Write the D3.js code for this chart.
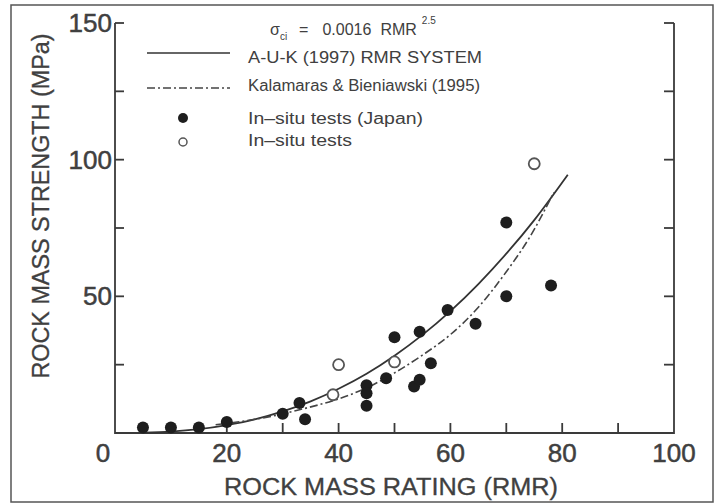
<!DOCTYPE html>
<html>
<head>
<meta charset="utf-8">
<script src="https://cdn.jsdelivr.net/npm/d3@7"></script>
<style>
  html, body { margin: 0; padding: 0; background: #fff; }
  svg { display: block; font-family: "Liberation Sans", Arial, sans-serif; }
</style>
</head>
<body>
<div id="chart"></div>
<script>
// tick values
const xMajorTicks = [0, 20, 40, 60, 80, 100];
const xMinorTicks = [10, 20, 30, 40, 50, 60, 70, 80, 90];
const yMajorTicks = [50, 100, 150];
const yMinorTicks = [25, 50, 75, 100, 125, 150];

// in-situ tests (Japan) - filled markers
const japanRmr      = [5, 10, 15, 20, 30, 33, 34, 45, 45, 45, 48.5, 50, 53.5, 54.5, 54.5, 56.5, 59.5, 64.5, 70, 70, 78];
const japanStrength = [2, 2, 2, 4, 7, 11, 5, 17.5, 14.5, 10, 20, 35, 17, 19.5, 37, 25.5, 45, 40, 50, 77, 54];

// in-situ tests - open markers
const otherRmr      = [39, 40, 50, 75];
const otherStrength = [14, 25, 26, 98.5];

// A-U-K (1997) RMR system curve
const aukRmr      = [5, 10, 15, 20, 25, 30, 35, 40, 45, 50, 55, 60, 65, 70, 75, 81];
const aukStrength = [0.1, 0.5, 1.4, 2.9, 5.0, 7.9, 11.6, 16.2, 21.7, 28.3, 35.9, 44.6, 54.5, 65.6, 77.9, 94.5];

// Kalamaras & Bieniawski (1995) curve
const kbRmr      = [18, 25, 30, 33, 40, 45, 50, 55, 60, 65, 70, 74, 78.5];
const kbStrength = [3, 5, 7, 8.5, 12.5, 16.5, 22, 28.5, 36, 46, 59, 71, 88];

const width = 721, height = 504;
const ink = "#3a3a3a";
const textInk = "#404040";

const svg = d3.select("#chart").append("svg")
  .attr("width", width)
  .attr("height", height);

const x = d3.scaleLinear().domain([0, 100]).range([115, 674]);
const y = d3.scaleLinear().domain([0, 150]).range([433, 23]);

// outer frame of the figure
svg.append("rect")
  .attr("x", 11).attr("y", 5)
  .attr("width", 702).attr("height", 497)
  .attr("fill", "none")
  .attr("stroke", "#555")
  .attr("stroke-width", 1.5);

// axes: left, bottom, right (no top line)
const axisG = svg.append("g").attr("stroke", ink).attr("stroke-width", 1.8).attr("fill", "none");
axisG.append("path")
  .attr("d", `M${x(0)},${y(150)}L${x(0)},${y(0)}L${x(100)},${y(0)}L${x(100)},${y(150)}`);

// inward ticks
axisG.selectAll(".xt").data(xMinorTicks).enter().append("line")
  .attr("x1", d => x(d)).attr("x2", d => x(d))
  .attr("y1", y(0)).attr("y2", y(0) - 10);
axisG.selectAll(".ylt").data(yMinorTicks).enter().append("line")
  .attr("x1", x(0)).attr("x2", x(0) + 9)
  .attr("y1", d => y(d)).attr("y2", d => y(d));
axisG.selectAll(".yrt").data(yMinorTicks).enter().append("line")
  .attr("x1", x(100)).attr("x2", x(100) - 10)
  .attr("y1", d => y(d)).attr("y2", d => y(d));

// tick labels
svg.append("g").selectAll("text").data(xMajorTicks).enter().append("text")
  .attr("x", d => d === 0 ? x(d) - 12 : x(d))
  .attr("y", y(0) + 29)
  .attr("text-anchor", "middle")
  .attr("fill", textInk)
  .attr("stroke", textInk).attr("stroke-width", 0.5)
  .style("font-size", "26px")
  .text(d => d);

svg.append("g").selectAll("text").data(yMajorTicks).enter().append("text")
  .attr("x", x(0) - 3)
  .attr("y", d => y(d) + 9)
  .attr("text-anchor", "end")
  .attr("fill", textInk)
  .attr("stroke", textInk).attr("stroke-width", 0.5)
  .style("font-size", "26px")
  .text(d => d);

// axis titles
svg.append("text")
  .attr("x", 391).attr("y", 495)
  .attr("text-anchor", "middle")
  .attr("fill", textInk)
  .attr("stroke", textInk).attr("stroke-width", 0.3)
  .attr("textLength", 334).attr("lengthAdjust", "spacingAndGlyphs")
  .style("font-size", "23px")
  .text("ROCK MASS RATING (RMR)");

svg.append("text")
  .attr("transform", "translate(49,206) rotate(-90)")
  .attr("text-anchor", "middle")
  .attr("fill", textInk)
  .attr("stroke", textInk).attr("stroke-width", 0.3)
  .attr("textLength", 345).attr("lengthAdjust", "spacingAndGlyphs")
  .style("font-size", "23px")
  .text("ROCK MASS STRENGTH (MPa)");

// curves
const line = d3.line()
  .x(d => x(d[0]))
  .y(d => y(d[1]))
  .curve(d3.curveMonotoneX);

svg.append("path")
  .datum(d3.zip(aukRmr, aukStrength))
  .attr("d", line)
  .attr("fill", "none")
  .attr("stroke", "#333")
  .attr("stroke-width", 1.8);

svg.append("path")
  .datum(d3.zip(kbRmr, kbStrength))
  .attr("d", line)
  .attr("fill", "none")
  .attr("stroke", "#444")
  .attr("stroke-width", 1.6)
  .attr("stroke-dasharray", "8,3,2,3");

// markers
svg.append("g").selectAll("circle").data(d3.zip(japanRmr, japanStrength)).enter().append("circle")
  .attr("cx", d => x(d[0]))
  .attr("cy", d => y(d[1]))
  .attr("r", 6)
  .attr("fill", "#1e1e1e");

svg.append("g").selectAll("circle").data(d3.zip(otherRmr, otherStrength)).enter().append("circle")
  .attr("cx", d => x(d[0]))
  .attr("cy", d => y(d[1]))
  .attr("r", 5.5)
  .attr("fill", "#fff")
  .attr("stroke", "#555")
  .attr("stroke-width", 1.8);

// legend
const legend = svg.append("g").attr("fill", textInk);

const formula = legend.append("text")
  .attr("x", 270).attr("y", 35)
  .style("font-size", "16px");
formula.append("tspan").text("σ");
formula.append("tspan").attr("dy", 5).style("font-size", "10px").text("ci");
formula.append("tspan").attr("dy", -5).attr("dx", 12).text("=");
formula.append("tspan").attr("dx", 14).text("0.0016");
formula.append("tspan").attr("dx", 9).text("RMR");
formula.append("tspan").attr("dy", -11).attr("dx", 5).style("font-size", "10px").text("2.5");

legend.append("line")
  .attr("x1", 147).attr("x2", 230).attr("y1", 53).attr("y2", 53)
  .attr("stroke", "#333").attr("stroke-width", 1.6);
legend.append("line")
  .attr("x1", 147).attr("x2", 230).attr("y1", 88).attr("y2", 88)
  .attr("stroke", "#444").attr("stroke-width", 1.6)
  .attr("stroke-dasharray", "8,3,2,3");
legend.append("circle")
  .attr("cx", 183).attr("cy", 118).attr("r", 5)
  .attr("fill", "#1e1e1e");
legend.append("circle")
  .attr("cx", 183).attr("cy", 142).attr("r", 4)
  .attr("fill", "#fff").attr("stroke", "#555").attr("stroke-width", 1.5);

const legendLabels = ["A-U-K (1997)  RMR SYSTEM", "Kalamaras & Bieniawski (1995)", "In–situ tests (Japan)", "In–situ tests"];
const legendY = [63, 91, 124, 146];
const legendW = [234, 232, 175, 104];
legend.selectAll(".lbl").data(legendLabels).enter().append("text")
  .attr("x", 248)
  .attr("y", (d, i) => legendY[i])
  .attr("textLength", (d, i) => legendW[i])
  .attr("lengthAdjust", "spacingAndGlyphs")
  .style("font-size", "16px")
  .text(d => d);
</script>
</body>
</html>
